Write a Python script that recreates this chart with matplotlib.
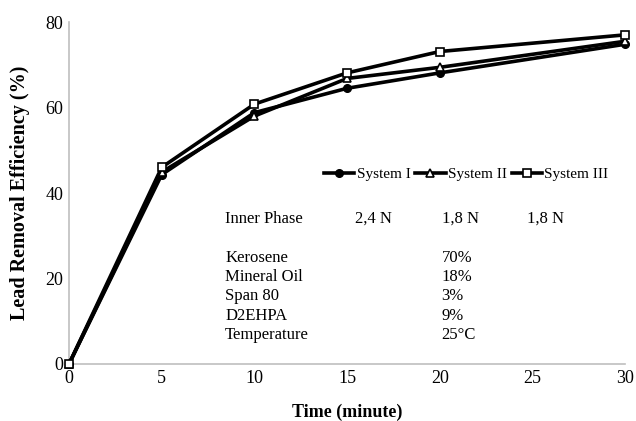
import matplotlib
matplotlib.use("Agg")
import matplotlib.pyplot as plt

time_min = [0, 5, 10, 15, 20, 30]
system_1 = [0, 44.3, 58.8, 64.5, 68.1, 74.8]
system_2 = [0, 44.9, 58.0, 66.8, 69.4, 75.5]
system_3 = [0, 46.0, 60.8, 68.1, 73.1, 77.0]
series_names = ["System I", "System II", "System III"]
x_ticks = [0, 5, 10, 15, 20, 25, 30]
y_ticks = [0, 20, 40, 60, 80]

header_label = "Inner Phase"
header_values = ["2,4 N", "1,8 N", "1,8 N"]
comp_labels = ["Kerosene", "Mineral Oil", "Span 80", "D2EHPA", "Temperature"]
comp_values = ["70%", "18%", "3%", "9%", "25°C"]

plt.rcParams['font.family'] = ['Liberation Serif', 'DejaVu Serif']

fig = plt.figure(figsize=(6.36, 4.21), dpi=100)
ax = fig.add_axes([0.1085, 0.1354, 0.8745, 0.8123])

ax.plot(time_min, system_1, color='black', lw=2.6, marker='o', ms=5.5,
        mfc='black', mec='black', label=series_names[0], zorder=3, clip_on=False)
ax.plot(time_min, system_2, color='black', lw=2.6, marker='^', ms=6,
        mfc='white', mec='black', mew=1.2, label=series_names[1], zorder=3, clip_on=False)
ax.plot(time_min, system_3, color='black', lw=2.6, marker='s', ms=6,
        mfc='white', mec='black', mew=1.2, label=series_names[2], zorder=4, clip_on=False)

ax.set_xlim(0, 30)
ax.set_ylim(0, 80)
ax.set_xticks(x_ticks)
ax.set_yticks(y_ticks)
ax.tick_params(length=0, labelsize=13, pad=4)
for s in ['top', 'right']:
    ax.spines[s].set_visible(False)
for s in ['left', 'bottom']:
    ax.spines[s].set_color('#bfbfbf')
    ax.spines[s].set_linewidth(1.2)

ax.set_xlabel("Time (minute)", fontsize=13, fontweight='bold', labelpad=12)
ax.set_ylabel("Lead Removal Efficiency (%)", fontsize=14.5, fontweight='bold', labelpad=11)

leg = ax.legend(loc='center', bbox_to_anchor=(0.714, 0.555), ncol=3, frameon=False,
                fontsize=11, handlelength=2.0, handletextpad=0.15,
                columnspacing=0.3, borderaxespad=0)

fs = 12
ax.text(8.42, 33.9, header_label, fontsize=fs, va='center', ha='left')
for xv, t in zip([15.43, 20.1, 24.7], header_values):
    ax.text(xv, 33.9, t, fontsize=fs, va='center', ha='left')
ys = [24.8, 20.3, 15.8, 11.3, 6.8]
for yv, lab, val in zip(ys, comp_labels, comp_values):
    ax.text(8.42, yv, lab, fontsize=fs, va='center', ha='left')
    ax.text(20.1, yv, val, fontsize=fs, va='center', ha='left')

fig.savefig("out.png", dpi=100)
